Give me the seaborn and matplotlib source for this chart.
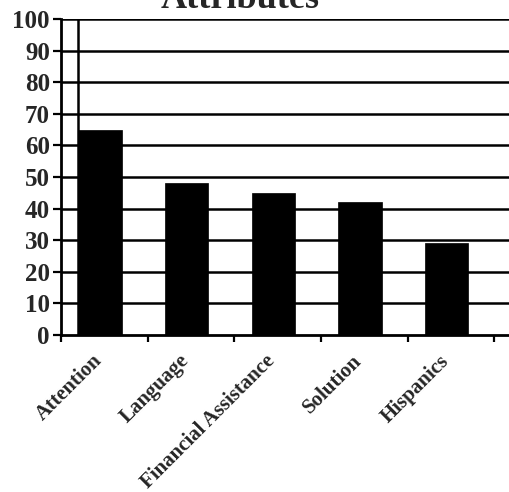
import matplotlib
matplotlib.use("Agg")
import matplotlib.pyplot as plt
import matplotlib.transforms as mtransforms
import seaborn as sns
import pandas as pd

categories = ["Attention", "Language", "Financial Assistance", "Solution", "Hispanics"]
values = [65, 48, 45, 42, 29]
y_ticks = [0, 10, 20, 30, 40, 50, 60, 70, 80, 90, 100]

df = pd.DataFrame({"attribute": categories, "score": values})

sns.set_theme(style="white")
plt.rcParams["font.family"] = ["Liberation Serif", "DejaVu Serif"]
plt.rcParams["font.weight"] = "bold"

fig = plt.figure(figsize=(5.09, 4.92), dpi=100)
ax = fig.add_axes([61 / 509, 1 - 335 / 492, 1 - 61 / 509, (335 - 19) / 492])

ax.set_axisbelow(True)
for t in y_ticks[1:]:
    ax.axhline(t, color="black", lw=1.8, zorder=0)

sns.barplot(data=df, x="attribute", y="score", color="black", width=0.5,
            saturation=1, edgecolor="black", linewidth=0.5, ax=ax, zorder=2)

ax.set_ylim(0, 100)
ax.set_xlim(-0.45, 4.72)
ax.axvline(-0.25, color="black", lw=1.8, zorder=1)

ax.set_yticks(y_ticks)
ax.set_yticklabels([str(v) for v in y_ticks], fontsize=18, fontweight="bold")
ax.set_xticks(range(len(categories)))
ax.set_xticklabels(categories, rotation=45, ha="right", rotation_mode="anchor",
                   fontsize=15, fontweight="bold")
ax.tick_params(axis="x", which="major", length=0, pad=10)
shift = mtransforms.ScaledTranslation(-8 / 100, -2 / 100, fig.dpi_scale_trans)
for lbl in ax.get_xticklabels():
    lbl.set_transform(lbl.get_transform() + shift)
ax.set_xticks([i - 0.45 for i in range(len(categories) + 1)], minor=True)
ax.tick_params(axis="x", which="minor", length=5, width=1.6, direction="out",
               bottom=True, color="black")
ax.tick_params(axis="y", length=6, width=1.6, direction="out", left=True,
               color="black", pad=2)

ax.set_xlabel("")
ax.set_ylabel("")
for side in ["top", "right"]:
    ax.spines[side].set_visible(False)
for side in ["left", "bottom"]:
    ax.spines[side].set_color("black")
    ax.spines[side].set_linewidth(2)

fig.text(240 / 509, 1 - 8 / 492, "Attributes", ha="center", va="baseline",
         fontsize=26, fontweight="bold")

fig.savefig("out.png", dpi=100, facecolor="white")
